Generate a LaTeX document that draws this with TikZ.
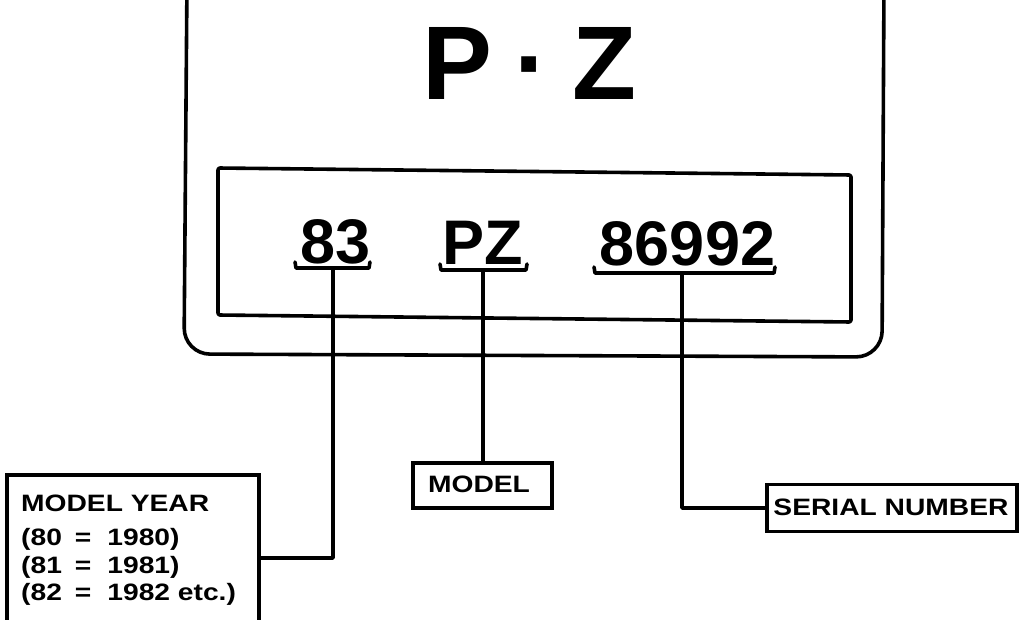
\documentclass[tikz,border=0pt]{standalone}
\usepackage{fontspec}
\setmainfont{Liberation Sans}
\newfontfamily\labelfont[FakeStretch=1.19]{Liberation Sans}
\newcommand\myeq{\hspace{13pt}=\hspace{16pt}}
\begin{document}
\begin{tikzpicture}[x=1pt,y=-1pt,
  ln/.style={line width=3.6pt, line join=round, line cap=round},
  bigtxt/.style={inner sep=0pt, font=\bfseries\fontsize{63}{63}\selectfont},
  lbl/.style={inner sep=0pt, font=\labelfont\bfseries\fontsize{23.7}{24}\selectfont},
  lblbox/.style={draw, line width=3.6pt, inner sep=0pt, rectangle}]
\useasboundingbox (0,0) rectangle (1024,620);
\clip (0,0) rectangle (1024,620);
% plate outline
\draw[ln, rounded corners=26pt] (187,-20) -- (184,354) -- (882,357) -- (884,-20);
% inner panel
\draw[ln, rounded corners=2pt] (218,168) -- (851,175) -- (851,322) -- (218,315) -- cycle;
% big letters
\node[inner sep=0pt, anchor=base west, font=\bfseries\fontsize{104.7}{105}\selectfont] (pz) at (422,100) {P\hspace{23pt}·\hspace{23pt}Z};
% code
\node[bigtxt, anchor=base] (yr) at (335.5,263) {83};
\node[bigtxt, anchor=base] (md) at (482.75,264) {PZ};
\node[bigtxt, anchor=base] (sn) at (687.5,265) {86992};
% brackets
\draw[ln] (295,262) -- (296,268) -- (369,268) -- (370,262);
\draw[ln] (440,264) -- (441,270) -- (526,270) -- (527,264);
\draw[ln] (594,267) -- (595,273) -- (774,273) -- (775,267);
\coordinate (byr) at (333,268);
\coordinate (bmd) at (483,270);
\coordinate (bsn) at (682,273);
% label boxes
\node[lblbox, minimum width=252pt, minimum height=166pt] (myear) at (133,558) {};
\node[lblbox, minimum width=139pt, minimum height=45pt] (modelbox) at (482.5,485.5) {};
\node[lblbox, minimum width=250pt, minimum height=47pt] (serialbox) at (892,508) {};
% label texts
\node[lbl, anchor=base] (modeltxt) at (479,492) {MODEL};
\node[lbl, anchor=base] (serialtxt) at (891,515) {SERIAL NUMBER};
\node[lbl, anchor=base west] (my1) at (21,511) {MODEL YEAR};
\node[lbl, anchor=base west] (my2) at (21,545) {(80\myeq 1980)};
\node[lbl, anchor=base west] (my3) at (21,573) {(81\myeq 1981)};
\node[lbl, anchor=base west] (my4) at (21,600) {(82\myeq 1982 etc.)};
% connectors
\draw[ln] (byr) |- (myear.east);
\draw[ln] (bmd) -- (bmd |- modelbox.north);
\draw[ln] (bsn) |- (serialbox.west);
\end{tikzpicture}
\end{document}
